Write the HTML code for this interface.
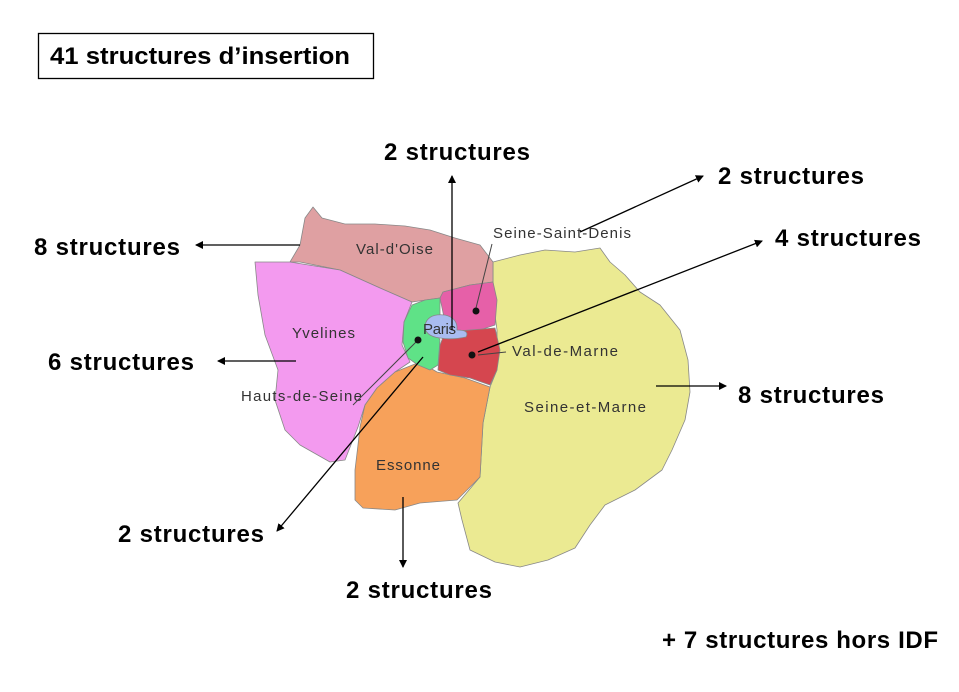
<!DOCTYPE html>
<html><head><meta charset="utf-8"><style>
body{margin:0;background:#fff;width:959px;height:687px;overflow:hidden;font-family:"Liberation Sans",sans-serif}
</style></head><body>
<svg width="959" height="687" viewBox="0 0 959 687" xmlns="http://www.w3.org/2000/svg">
<defs><marker id="a" markerWidth="8" markerHeight="8" refX="7" refY="4" orient="auto" markerUnits="userSpaceOnUse"><path d="M0,0 L8,4 L0,8 z" fill="#000"/></marker></defs>
<rect x="38.5" y="33.5" width="335" height="45" fill="#fff" stroke="#000" stroke-width="1.3"/>
<text x="50" y="64" font-size="24" font-weight="bold" fill="#000" textLength="300" lengthAdjust="spacingAndGlyphs">41 structures d’insertion</text>
<g stroke="#888" stroke-width="0.8" stroke-linejoin="round">
<path fill="#ebea92" d="M493,262 L520,255 L545,250 L575,252 L600,248 L610,262 L625,275 L640,292 L660,305 L680,330 L688,360 L690,392 L685,420 L672,450 L662,470 L635,490 L605,505 L590,525 L575,548 L548,560 L520,567 L495,562 L470,550 L462,520 L458,503 L480,477 L483,423 L490,387 L497,370 L497,330 L493,300 Z"/>
<path fill="#dfa0a2" d="M300,245 L305,218 L313,207 L322,218 L345,224 L375,224 L405,226 L430,230 L455,238 L480,245 L493,262 L493,282 L470,285 L443,292 L440,298 L412,302 L380,288 L340,270 L300,262 L290,262 Z"/>
<path fill="#f39aef" d="M255,262 L290,262 L340,270 L380,288 L412,302 L404,322 L402,345 L410,362 L395,372 L377,388 L365,405 L358,427 L345,460 L330,462 L300,445 L285,430 L275,400 L278,370 L265,335 L258,295 Z"/>
<path fill="#f7a15a" d="M377,388 L395,372 L420,362 L437,372 L465,378 L490,387 L483,423 L480,477 L457,500 L420,503 L395,510 L363,508 L355,500 L355,470 L358,445 L360,427 L365,405 Z"/>
<path fill="#e660a8" d="M440,298 L443,292 L470,285 L493,282 L497,300 L495,325 L480,330 L460,332 L445,322 Z"/>
<path fill="#d5464f" d="M445,332 L470,330 L495,328 L500,350 L497,370 L490,385 L470,378 L450,375 L438,370 L440,345 Z"/>
<path fill="#5fe287" d="M412,305 L425,300 L440,298 L440,315 L432,325 L440,340 L438,365 L430,370 L418,365 L408,358 L403,342 L404,322 Z"/>
<path fill="#a9bcf0" d="M425,325 Q428,313 445,315 Q458,318 457,330 Q470,330 466,337 Q452,340 440,338 Q424,336 425,325 Z"/>
</g>
<g font-size="15" fill="#333" lengthAdjust="spacingAndGlyphs">
<text x="356" y="254" textLength="77">Val-d'Oise</text>
<text x="493" y="238" textLength="138">Seine-Saint-Denis</text>
<text x="292" y="338" textLength="63">Yvelines</text>
<text x="423" y="334" textLength="33">Paris</text>
<text x="512" y="356" textLength="106">Val-de-Marne</text>
<text x="241" y="401" textLength="121">Hauts-de-Seine</text>
<text x="524" y="412" textLength="122">Seine-et-Marne</text>
<text x="376" y="470" textLength="64">Essonne</text>
</g>
<g stroke="#444" stroke-width="1" fill="none">
<line x1="492" y1="244" x2="476" y2="308"/>
<line x1="353" y1="405" x2="418" y2="340"/>
<line x1="506" y1="352" x2="478" y2="355"/>
</g>
<g fill="#111"><circle cx="476" cy="311" r="3.5"/><circle cx="418" cy="340" r="3.5"/><circle cx="472" cy="355" r="3.5"/></g>
<g stroke="#000" stroke-width="1.3" fill="none" marker-end="url(#a)">
<line x1="452" y1="330" x2="452" y2="176"/>
<line x1="580" y1="232" x2="703" y2="176"/>
<line x1="478" y1="352" x2="762" y2="241"/>
<line x1="300" y1="245" x2="196" y2="245"/>
<line x1="296" y1="361" x2="218" y2="361"/>
<line x1="656" y1="386" x2="726" y2="386"/>
<line x1="423" y1="357" x2="277" y2="531"/>
<line x1="403" y1="497" x2="403" y2="567"/>
</g>
<g font-size="24" font-weight="bold" fill="#000" lengthAdjust="spacingAndGlyphs">
<text x="384" y="160" textLength="146">2 structures</text>
<text x="718" y="184" textLength="146">2 structures</text>
<text x="775" y="246" textLength="146">4 structures</text>
<text x="34" y="255" textLength="146">8 structures</text>
<text x="48" y="370" textLength="146">6 structures</text>
<text x="738" y="403" textLength="146">8 structures</text>
<text x="118" y="542" textLength="146">2 structures</text>
<text x="346" y="598" textLength="146">2 structures</text>
<text x="662" y="648" textLength="276">+ 7 structures hors IDF</text>
</g>
</svg>
</body></html>
